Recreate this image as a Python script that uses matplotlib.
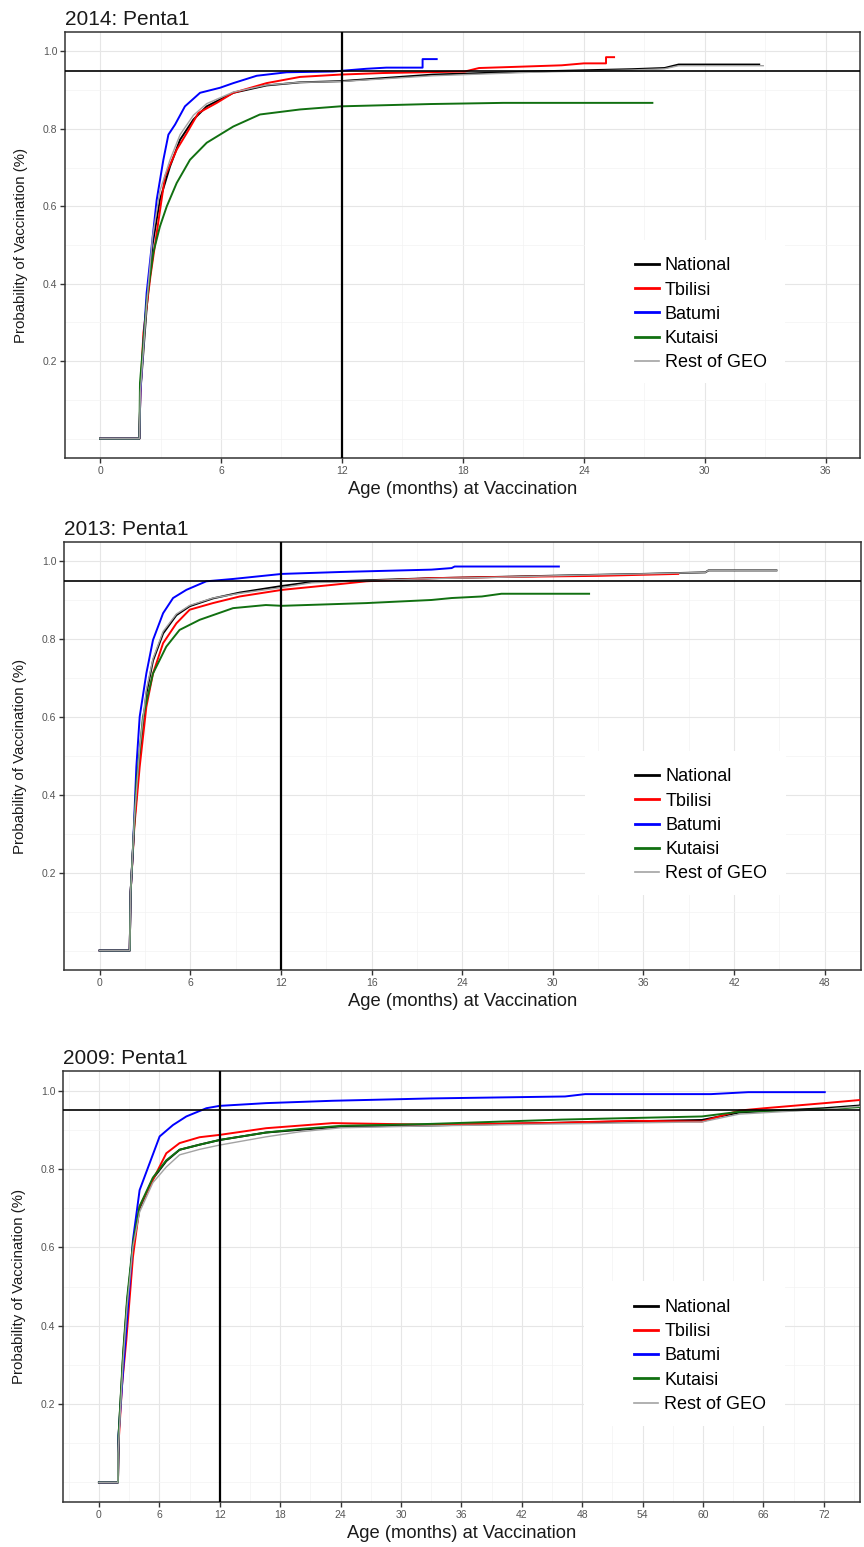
import matplotlib
matplotlib.use("Agg")
import matplotlib.pyplot as plt
from matplotlib.patches import Rectangle
from matplotlib.ticker import MultipleLocator

plt.rcParams['font.family'] = ['Liberation Sans', 'DejaVu Sans']

series_names = ["National", "Tbilisi", "Batumi", "Kutaisi", "Rest of GEO"]
series_colors = ["#000000", "#FF0000", "#0000FF", "#117011", "#A3A3A3"]
series_widths = [1.4, 1.4, 1.4, 1.4, 1.0]

# ---- 2014: Penta1 (age in months, cumulative probability) ----
x14_national = [0, 1.95, 2.0, 2.3, 2.6, 2.97, 3.47, 3.97, 4.63, 5.29, 6.61, 8.26, 9.92, 11.9, 16.5, 21.4, 26.4, 28.0, 28.7, 32.7]
y14_national = [0, 0, 0.12, 0.33, 0.5, 0.617, 0.703, 0.772, 0.824, 0.858, 0.893, 0.912, 0.92, 0.923, 0.94, 0.948, 0.954, 0.957, 0.966, 0.966]
x14_tbilisi = [0, 1.95, 2.0, 2.15, 2.5, 2.81, 3.22, 3.8, 4.3, 4.88, 5.79, 6.61, 8.26, 9.92, 11.9, 14.0, 18.1, 18.8, 20.6, 22.9, 24.0, 25.1, 25.1, 25.5]
y14_tbilisi = [0, 0, 0.12, 0.273, 0.42, 0.531, 0.677, 0.746, 0.789, 0.841, 0.867, 0.893, 0.918, 0.934, 0.94, 0.944, 0.948, 0.957, 0.96, 0.964, 0.969, 0.969, 0.985, 0.985]
x14_batumi = [0, 1.95, 2.0, 2.13, 2.31, 2.56, 2.81, 3.14, 3.39, 3.72, 4.21, 4.96, 5.95, 6.61, 7.77, 9.26, 11.55, 13.2, 14.2, 16.0, 16.0, 16.7]
y14_batumi = [0, 0, 0.12, 0.23, 0.376, 0.497, 0.617, 0.72, 0.785, 0.811, 0.858, 0.893, 0.906, 0.918, 0.937, 0.946, 0.948, 0.955, 0.958, 0.958, 0.98, 0.98]
x14_kutaisi = [0, 1.95, 1.98, 2.32, 2.64, 2.97, 3.31, 3.8, 4.46, 5.29, 6.61, 7.93, 9.92, 11.9, 16.4, 20.0, 27.4]
y14_kutaisi = [0, 0, 0.144, 0.359, 0.48, 0.548, 0.6, 0.66, 0.72, 0.764, 0.806, 0.837, 0.85, 0.858, 0.864, 0.867, 0.867]
x14_rest = [0, 1.95, 2.0, 2.3, 2.6, 2.97, 3.47, 3.97, 4.63, 5.29, 6.61, 8.26, 9.92, 11.9, 16.5, 21.4, 26.4, 28.0, 28.7, 32.9]
y14_rest = [0, 0, 0.12, 0.34, 0.52, 0.64, 0.72, 0.785, 0.835, 0.865, 0.895, 0.913, 0.92, 0.922, 0.937, 0.946, 0.952, 0.955, 0.963, 0.963]

# ---- 2013: Penta1 ----
x13_national = [0, 1.99, 2.05, 2.3, 2.65, 3.09, 3.53, 4.2, 5.08, 5.96, 7.5, 9.27, 12.07, 14, 18, 22, 26, 32, 36, 40.1, 40.3, 44.8]
y13_national = [0, 0, 0.15, 0.33, 0.5, 0.66, 0.745, 0.815, 0.862, 0.885, 0.905, 0.92, 0.937, 0.947, 0.952, 0.957, 0.96, 0.965, 0.968, 0.972, 0.977, 0.977]
x13_tbilisi = [0, 1.99, 2.05, 2.3, 2.65, 3.09, 3.53, 4.2, 5.08, 5.96, 7.5, 9.27, 12.07, 15.45, 17.65, 21.97, 26.4, 33.0, 38.3]
y13_tbilisi = [0, 0, 0.15, 0.32, 0.472, 0.626, 0.712, 0.79, 0.841, 0.876, 0.893, 0.91, 0.927, 0.94, 0.949, 0.957, 0.96, 0.963, 0.968]
x13_batumi = [0, 1.99, 2.05, 2.2, 2.43, 2.65, 3.09, 3.53, 4.2, 4.86, 5.74, 7.06, 8.83, 12.07, 16, 21.97, 23.3, 23.5, 30.4]
y13_batumi = [0, 0, 0.15, 0.257, 0.472, 0.601, 0.712, 0.798, 0.867, 0.906, 0.927, 0.949, 0.955, 0.968, 0.973, 0.979, 0.983, 0.987, 0.987]
x13_kutaisi = [0, 1.99, 2.05, 2.43, 2.87, 3.53, 4.41, 5.29, 6.62, 8.83, 11.0, 12.07, 17.65, 21.97, 23.3, 25.3, 26.6, 32.4]
y13_kutaisi = [0, 0, 0.15, 0.429, 0.601, 0.712, 0.781, 0.824, 0.85, 0.88, 0.888, 0.886, 0.893, 0.901, 0.906, 0.91, 0.917, 0.917]
x13_rest = [0, 1.99, 2.05, 2.3, 2.65, 3.09, 3.53, 4.2, 5.08, 5.96, 7.5, 9.27, 12.07, 14, 18, 22, 26, 32, 36, 40.1, 40.3, 44.8]
y13_rest = [0, 0, 0.15, 0.34, 0.52, 0.67, 0.75, 0.82, 0.865, 0.887, 0.906, 0.918, 0.933, 0.945, 0.951, 0.956, 0.959, 0.965, 0.968, 0.972, 0.977, 0.977]

# ---- 2009: Penta1 ----
x09_national = [0, 1.89, 1.95, 2.4, 2.8, 3.38, 4.04, 5.36, 6.69, 8.01, 10, 12, 16.6, 20, 24, 33, 46, 59.9, 63.6, 72, 75.6]
y09_national = [0, 0, 0.12, 0.32, 0.46, 0.6, 0.7, 0.775, 0.82, 0.849, 0.862, 0.874, 0.893, 0.9, 0.908, 0.911, 0.918, 0.925, 0.944, 0.955, 0.962]
x09_tbilisi = [0, 1.89, 1.95, 2.3, 2.72, 3.38, 4.04, 5.36, 6.69, 8.01, 10, 12, 16.6, 23.2, 33, 46, 52.9, 59.9, 63.6, 66.1, 72.1, 75.6]
y09_tbilisi = [0, 0, 0.1, 0.25, 0.363, 0.576, 0.704, 0.772, 0.84, 0.866, 0.881, 0.887, 0.904, 0.917, 0.913, 0.918, 0.923, 0.921, 0.949, 0.955, 0.968, 0.976]
x09_batumi = [0, 1.89, 1.95, 2.38, 2.88, 3.38, 4.04, 5.04, 6.03, 7.35, 8.68, 10.67, 11.98, 16.6, 23.2, 33, 46.3, 48.3, 60.8, 64.5, 72.1]
y09_batumi = [0, 0, 0.12, 0.278, 0.448, 0.619, 0.746, 0.815, 0.883, 0.912, 0.934, 0.955, 0.961, 0.968, 0.974, 0.98, 0.985, 0.991, 0.991, 0.996, 0.996]
x09_kutaisi = [0, 1.89, 1.95, 2.4, 2.8, 3.38, 4.04, 5.36, 6.69, 8.01, 10, 12, 16.6, 20, 24, 33, 46, 59.9, 63.6, 72, 75.6]
y09_kutaisi = [0, 0, 0.12, 0.33, 0.47, 0.61, 0.705, 0.778, 0.822, 0.849, 0.862, 0.874, 0.893, 0.902, 0.91, 0.915, 0.926, 0.934, 0.946, 0.952, 0.958]
x09_rest = [0, 1.89, 1.9, 2.4, 2.8, 3.38, 4.04, 5.36, 6.69, 8.01, 10, 12, 16.6, 20, 24, 33, 46, 59.9, 63.6, 72, 75.6]
y09_rest = [0, 0, 0.074, 0.31, 0.45, 0.602, 0.69, 0.765, 0.805, 0.836, 0.85, 0.861, 0.882, 0.895, 0.905, 0.91, 0.915, 0.92, 0.94, 0.952, 0.96]

# Tick labels
xticks_2014 = [0, 6, 12, 18, 24, 30, 36]
xticks_2013 = [0, 6, 12, 18, 24, 30, 36, 42, 48]
xticklabels_2013 = ["0", "6", "12", "16", "24", "30", "36", "42", "48"]
xticks_2009 = [0, 6, 12, 18, 24, 30, 36, 42, 48, 54, 60, 66, 72]
yticks = [0.2, 0.4, 0.6, 0.8, 1.0]
ytick_labels = ["0.2", "0.4", "0.6", "0.8", "1.0"]
target_coverage = 0.95
target_age = 12

panels = [
    dict(title="2014: Penta1",
         xs=[x14_national, x14_tbilisi, x14_batumi, x14_kutaisi, x14_rest],
         ys=[y14_national, y14_tbilisi, y14_batumi, y14_kutaisi, y14_rest],
         xticks=xticks_2014, xticklabels=[str(t) for t in xticks_2014],
         xlim=(-1.74, 37.7), rect_px=(65, 32, 860, 458)),
    dict(title="2013: Penta1",
         xs=[x13_national, x13_tbilisi, x13_batumi, x13_kutaisi, x13_rest],
         ys=[y13_national, y13_tbilisi, y13_batumi, y13_kutaisi, y13_rest],
         xticks=xticks_2013, xticklabels=xticklabels_2013,
         xlim=(-2.36, 50.4), rect_px=(64, 542, 861, 970)),
    dict(title="2009: Penta1",
         xs=[x09_national, x09_tbilisi, x09_batumi, x09_kutaisi, x09_rest],
         ys=[y09_national, y09_tbilisi, y09_batumi, y09_kutaisi, y09_rest],
         xticks=xticks_2009, xticklabels=[str(t) for t in xticks_2009],
         xlim=(-3.57, 75.6), rect_px=(63, 1071, 860, 1502)),
]

W, H = 864, 1547
fig = plt.figure(figsize=(W / 100, H / 100), dpi=100)
fig.patch.set_facecolor("white")

for p in panels:
    l, t, r, b = p["rect_px"]
    ax = fig.add_axes([l / W, 1 - b / H, (r - l) / W, (b - t) / H])
    ax.set_xlim(*p["xlim"])
    ax.set_ylim(-0.05, 1.05)

    # grid (major + minor), theme_bw style
    ax.set_axisbelow(True)
    ax.set_xticks(p["xticks"])
    ax.set_xticklabels(p["xticklabels"])
    ax.xaxis.set_minor_locator(MultipleLocator(3))
    ax.set_yticks(yticks)
    ax.set_yticklabels(ytick_labels)
    ax.yaxis.set_minor_locator(MultipleLocator(0.1))
    ax.grid(which="major", color="#E6E6E6", linewidth=0.8)
    ax.grid(which="minor", color="#F3F3F3", linewidth=0.5)

    ax.tick_params(which="major", length=3.5, width=1.0, color="#333333",
                   labelsize=7.5, labelcolor="#555555", pad=2)
    ax.tick_params(which="minor", length=0)
    for sp in ax.spines.values():
        sp.set_color("#333333")
        sp.set_linewidth(1.1)

    # white legend background
    ax.add_patch(Rectangle((0.654, 0.176), 0.252, 0.336, transform=ax.transAxes,
                           facecolor="white", edgecolor="none", zorder=1))

    for xs, ys, name, col, lw in zip(p["xs"], p["ys"], series_names, series_colors, series_widths):
        ax.plot(xs, ys, color=col, linewidth=lw, label=name, zorder=3)

    ax.axhline(target_coverage, color="black", linewidth=1.2, zorder=4)
    ax.axvline(target_age, color="black", linewidth=1.6, zorder=4)

    ax.set_title(p["title"], loc="left", fontsize=15, pad=5, color="#1a1a1a")
    ax.set_xlabel("Age (months) at Vaccination", fontsize=13.2, labelpad=4, color="#1a1a1a")
    ax.set_ylabel("Probability of Vaccination (%)", fontsize=10.8, color="#1a1a1a")
    ax.yaxis.set_label_coords(-0.046, 0.5)

    leg = ax.legend(loc="upper left", bbox_to_anchor=(0.717, 0.471), frameon=False,
                    fontsize=13, handlelength=1.33, handletextpad=0.33,
                    labelspacing=0.4, borderpad=0, borderaxespad=0)
    for h in leg.get_lines():
        h.set_linewidth(2.0)
    leg.get_lines()[-1].set_linewidth(1.2)
    leg.set_zorder(5)

fig.savefig("out.png", dpi=100, facecolor="white")
